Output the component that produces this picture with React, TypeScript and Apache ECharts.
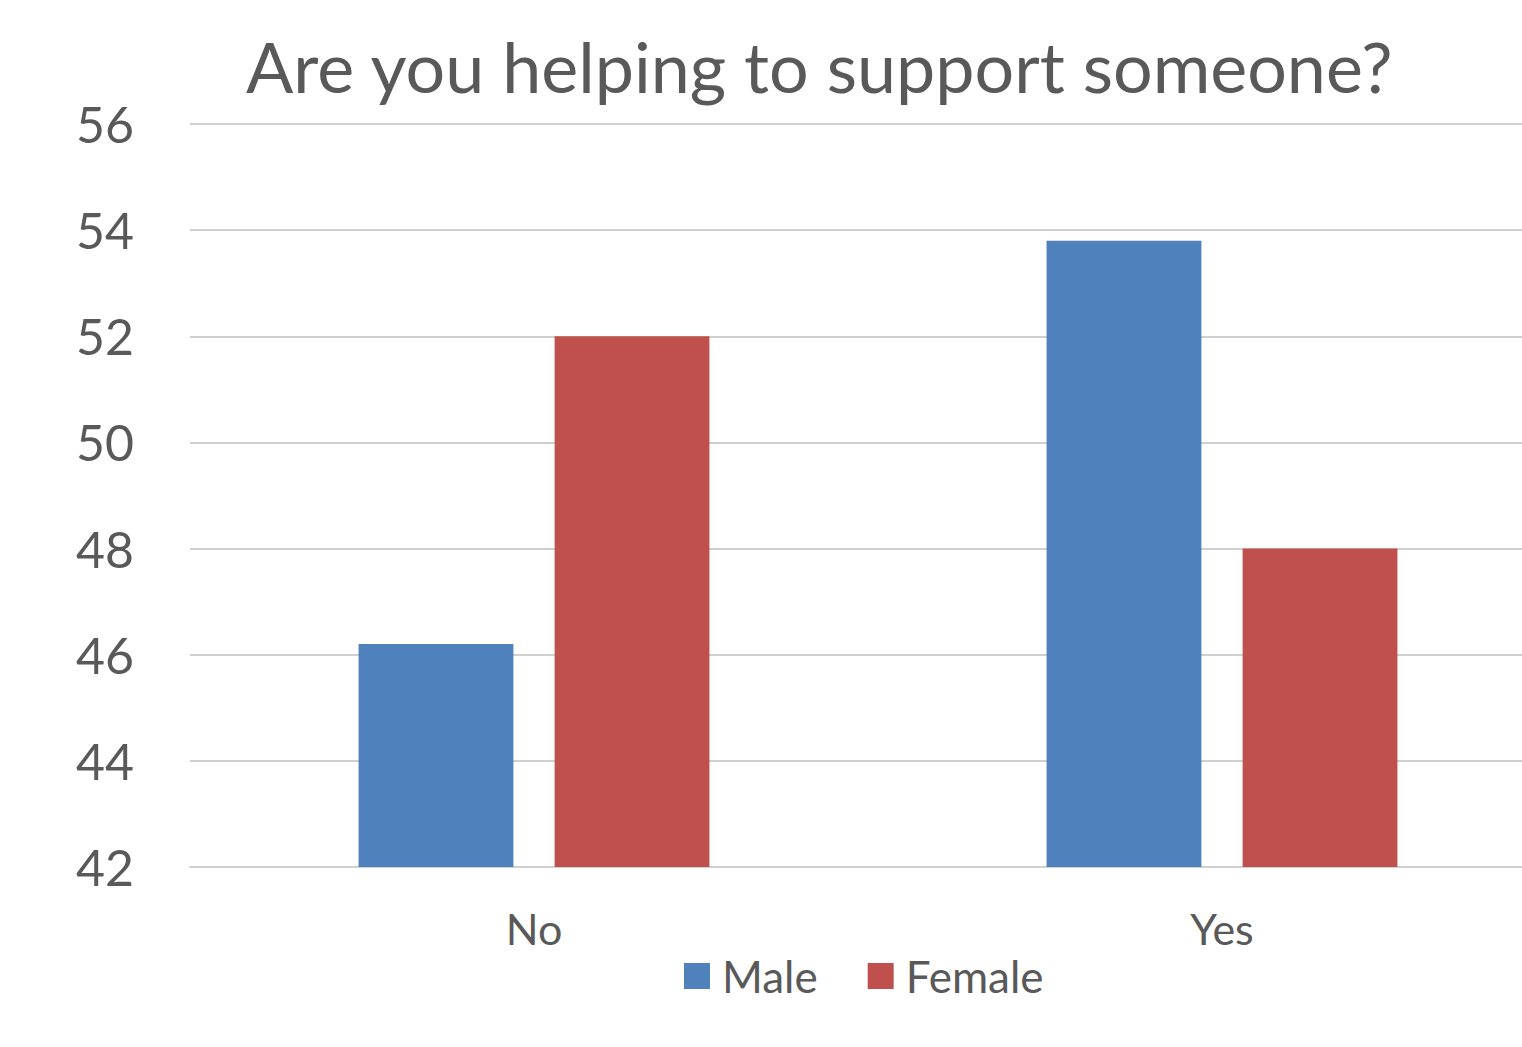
import React, { useEffect, useRef } from "react";
import * as echarts from "echarts";

const categories = ["No", "Yes"];
const maleValues = [46.2, 53.8];
const femaleValues = [52.0, 48.0];
const seriesNames = ["Male", "Female"];

const FONT = "Lato, 'Open Sans', sans-serif";
const TEXT = "#595959";

export default function App() {
  const ref = useRef<HTMLDivElement>(null);
  useEffect(() => {
    if (!ref.current) return;
    const chart = echarts.init(ref.current, undefined, { renderer: "svg" });
    chart.setOption({
      animation: false,
      backgroundColor: "#ffffff",
      title: {
        text: "Are you helping to support someone?",
        left: 241,
        top: 26,
        textStyle: { fontFamily: FONT, fontSize: 70, fontWeight: "normal", color: TEXT },
      },
      legend: {
        data: seriesNames,
        left: 679,
        top: 949,
        itemWidth: 26,
        itemHeight: 26,
        itemGap: 50,
        icon: "rect",
        textStyle: { fontFamily: FONT, fontSize: 44, color: TEXT, padding: [0, 0, 0, 7] },
      },
      grid: { left: 190, right: 0, top: 124, bottom: 180, containLabel: false },
      xAxis: {
        type: "category",
        data: categories,
        axisLine: { show: true, lineStyle: { color: "#d0d0d0", width: 2 } },
        axisTick: { show: false },
        axisLabel: { fontFamily: FONT, fontSize: 43, color: TEXT, margin: 40 },
      },
      yAxis: {
        type: "value",
        min: 42,
        max: 56,
        interval: 2,
        axisLine: { show: false },
        axisTick: { show: false },
        splitLine: { lineStyle: { color: "#d0d0d0", width: 2 } },
        axisLabel: { fontFamily: FONT, fontSize: 50, color: TEXT, margin: 56 },
      },
      series: [
        {
          name: seriesNames[0],
          type: "bar",
          data: maleValues,
          itemStyle: { color: "#4F81BD" },
          barGap: "26.6%",
          barCategoryGap: "49%",
        },
        {
          name: seriesNames[1],
          type: "bar",
          data: femaleValues,
          itemStyle: { color: "#C0504D" },
          barGap: "26.6%",
          barCategoryGap: "49%",
        },
      ],
    });
    return () => chart.dispose();
  }, []);
  return (
    <div
      ref={ref}
      style={{ position: "fixed", left: 0, top: 0, width: 1566, height: 1047 }}
    />
  );
}
